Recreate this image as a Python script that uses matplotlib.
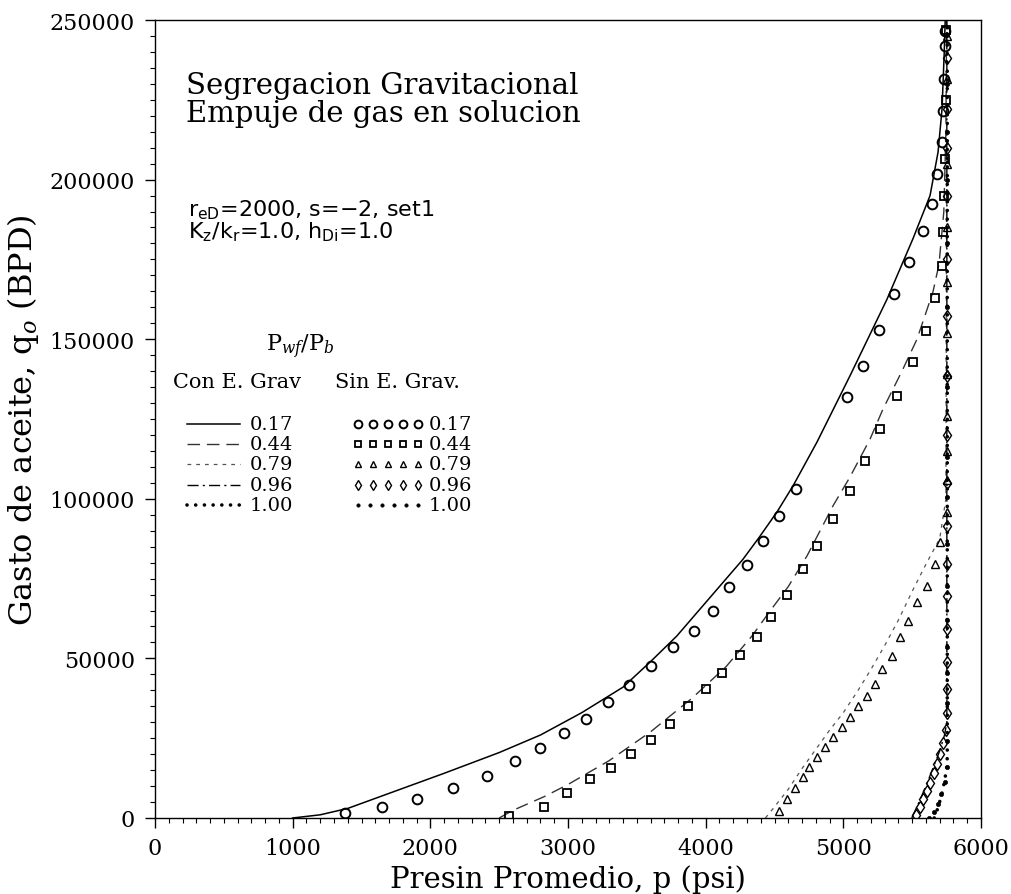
import matplotlib
matplotlib.use("Agg")
import matplotlib.pyplot as plt
import numpy as np
from matplotlib.ticker import MultipleLocator

plt.rcParams['font.family'] = ['DejaVu Serif']
plt.rcParams['mathtext.fontset'] = 'dejavuserif'

# ---- Con E. Grav (with gravity segregation): curves ----
con_017_p = [1000, 1200, 1400, 1750, 2100, 2500, 2800, 3100, 3400, 3600, 3790, 3940, 4130, 4270,
             4390, 4520, 4634, 4809, 5048, 5317, 5506, 5630, 5688, 5717, 5733, 5740]
con_017_q = [0, 1000, 3000, 8500, 14000, 20500, 26000, 33000, 41000, 49000, 57000, 64500, 74000, 81000,
             88000, 96000, 104000, 117800, 138500, 162500, 181500, 195000, 208600, 222100, 240000, 250000]

con_044_p = [2500, 2600, 2825, 3000, 3300, 3600, 3900, 4150, 4336, 4467, 4600, 4736, 4925,
             5048, 5194, 5288, 5426, 5535, 5651, 5695, 5730, 5745, 5750]
con_044_q = [0, 2400, 6650, 10500, 18000, 27000, 37500, 47500, 57000, 64800, 72500, 82100, 97800,
             106800, 118700, 128100, 140000, 150000, 164800, 173500, 190000, 215000, 250000]

con_079_p = [4434, 4500, 4600, 4700, 4800, 4900, 5000, 5100, 5200, 5300, 5400, 5500, 5600,
             5700, 5745, 5752]
con_079_q = [0, 3500, 9000, 15500, 21500, 27500, 33000, 39500, 46500, 54000, 62000, 71000, 79500,
             87500, 100000, 250000]

con_096_p = [5497, 5550, 5600, 5650, 5700, 5735, 5752, 5752]
con_096_q = [0, 5000, 10000, 15500, 21000, 26000, 30000, 250000]

con_100_p = [5660, 5690, 5715, 5735, 5750, 5755, 5755]
con_100_q = [0, 3500, 7500, 11500, 15500, 19000, 250000]

# ---- Sin E. Grav (without gravity segregation): points ----
sin_017_p = [1380, 1650, 1902, 2168, 2411, 2615, 2800, 2970, 3130, 3290, 3440, 3600, 3763,
             3915, 4053, 4170, 4300, 4416, 4533, 4656, 5027, 5143, 5259, 5368, 5477, 5579,
             5644, 5680, 5717, 5724, 5731, 5738, 5740]
sin_017_q = [1500, 3600, 6050, 9300, 13300, 17900, 22000, 26500, 31000, 36300, 41800, 47500, 53600,
             58600, 64900, 72400, 79300, 86800, 94600, 103100, 131900, 141600, 152900, 164200, 174200, 183900,
             192400, 201800, 211800, 221500, 231500, 241900, 246600]

sin_044_p = [2573, 2825, 2993, 3161, 3315, 3460, 3600, 3740, 3870, 4000, 4120, 4250, 4373,
             4475, 4591, 4707, 4809, 4925, 5048, 5157, 5266, 5390, 5506, 5600, 5666, 5717,
             5724, 5731, 5735, 5745, 5748]
sin_044_q = [600, 3600, 7900, 12100, 15700, 20000, 24500, 29500, 35000, 40500, 45500, 51000, 56700,
             63000, 69900, 78000, 85200, 93700, 102400, 111800, 121900, 132200, 142900, 152600, 162900, 172900,
             183600, 194900, 206400, 225000, 247000]

sin_079_p = [4530, 4590, 4650, 4705, 4750, 4809, 4867, 4925, 4990, 5048, 5107, 5172, 5230,
             5281, 5354, 5412, 5470, 5535, 5608, 5666, 5700, 5752, 5752, 5752, 5752, 5752,
             5752, 5752, 5752, 5752, 5752, 5752]
sin_079_q = [2200, 5800, 9300, 12800, 16000, 19100, 22200, 25400, 28500, 31600, 35100, 38200, 42000,
             46700, 50800, 56700, 61700, 67700, 72700, 79600, 86500, 96000, 106000, 115000, 126000, 139000,
             152000, 168000, 185000, 205000, 231500, 245000]

sin_096_p = [5530, 5555, 5580, 5605, 5630, 5655, 5680, 5705, 5725, 5745, 5752, 5752, 5752,
             5752, 5752, 5752, 5752, 5752, 5752, 5752, 5752, 5752, 5752, 5752, 5752, 5752]
sin_096_q = [1000, 3500, 6000, 8500, 11000, 14000, 17000, 20000, 23500, 27500, 33000, 40400, 48900,
             59200, 69600, 79600, 91500, 105000, 120000, 138500, 157300, 175000, 194900, 210000, 222100, 238000]

sin_100_p = [5625, 5655, 5685, 5710, 5735, 5750, 5755, 5755, 5755, 5755, 5755, 5755, 5755,
             5755, 5755, 5755, 5755, 5755, 5755, 5755, 5755]
sin_100_q = [0, 2000, 4500, 7500, 11300, 16000, 24000, 36000, 45500, 53600, 62000, 72700, 85900,
             100600, 113000, 135000, 160000, 180000, 200000, 215000, 230000]

ratio_labels = ["0.17", "0.44", "0.79", "0.96", "1.00"]
x_ticks = [0, 1000, 2000, 3000, 4000, 5000, 6000]
y_ticks = [0, 50000, 100000, 150000, 200000, 250000]

# ---- styles ----
con_styles = [
    dict(color='black', lw=1.1, ls='-'),
    dict(color='#333333', lw=1.0, ls=(0, (9, 5))),
    dict(color='#555555', lw=0.9, ls=(0, (3, 4))),
    dict(color='black', lw=1.0, ls=(0, (8, 3, 1.5, 3))),
    dict(color='black', lw=2.6, ls=(0, (0.01, 2.4)), dash_capstyle='round'),
]
sin_styles = [
    dict(marker='o', ms=7.0, mfc='none', mec='black', mew=1.4),
    dict(marker='s', ms=5.5, mfc='none', mec='black', mew=1.3),
    dict(marker='^', ms=5.5, mfc='none', mec='black', mew=1.0),
    dict(marker='d', ms=6.0, mfc='none', mec='black', mew=1.0),
    dict(marker='o', ms=3.0, mfc='black', mec='black', mew=0.5),
]

con_series = [(con_017_p, con_017_q), (con_044_p, con_044_q), (con_079_p, con_079_q),
              (con_096_p, con_096_q), (con_100_p, con_100_q)]
sin_series = [(sin_017_p, sin_017_q), (sin_044_p, sin_044_q), (sin_079_p, sin_079_q),
              (sin_096_p, sin_096_q), (sin_100_p, sin_100_q)]

W, H = 1011, 895
fig = plt.figure(figsize=(W / 100, H / 100), dpi=100)
L, R, T, B = 155, 981, 21, 819
ax = fig.add_axes([L / W, 1 - B / H, (R - L) / W, (B - T) / H])

for (p, q), st in zip(con_series, con_styles):
    ax.plot(p, q, **st)
for (p, q), st in zip(sin_series, sin_styles):
    ax.plot(p, q, ls='none', **st)

ax.set_xlim(0, 6000)
ax.set_ylim(0, 250000)
ax.set_xticks(x_ticks)
ax.set_yticks(y_ticks)
ax.set_xticklabels([str(v) for v in x_ticks])
ax.set_yticklabels([str(v) for v in y_ticks])
ax.xaxis.set_minor_locator(MultipleLocator(100))
ax.yaxis.set_minor_locator(MultipleLocator(5000))
ax.tick_params(which='major', direction='out', length=7.5, width=1.0, labelsize=16)
ax.tick_params(axis='x', which='major', pad=6)
ax.tick_params(axis='y', which='major', pad=7)
ax.tick_params(which='minor', direction='out', length=3.5, width=0.8)
ax.tick_params(which='both', top=False, right=False)
for s in ax.spines.values():
    s.set_linewidth(1.0)

ax.set_xlabel("Presin Promedio, p (psi)", fontsize=21, labelpad=4)
ax.set_ylabel("Gasto de aceite, q$_o$ (BPD)", fontsize=23, labelpad=6)

# headline
ax.text(0.0375, 0.936, "Segregacion Gravitacional\nEmpuje de gas en solucion",
        transform=ax.transAxes, fontsize=21, va='top', ha='left', linespacing=1.0)

# case parameters
ax.text(0.04, 0.778, "r$_{\\mathsf{eD}}$=2000, s=\u22122, set1\nK$_{\\mathsf{z}}$/k$_{\\mathsf{r}}$=1.0, h$_{\\mathsf{Di}}$=1.0",
        transform=ax.transAxes, fontsize=16, va='top', ha='left', family='DejaVu Sans',
        linespacing=0.95)

# key
ax.text(0.1755, 0.5915, "P$_{wf}$/P$_b$", transform=ax.transAxes, fontsize=16,
        ha='center', va='center')
ax.text(0.0218, 0.5476, "Con E. Grav", transform=ax.transAxes, fontsize=15,
        ha='left', va='center')
ax.text(0.218, 0.5476, "Sin E. Grav.", transform=ax.transAxes, fontsize=15,
        ha='left', va='center')

row_y = [0.4937, 0.4687, 0.4436, 0.4173, 0.3922]
con_x0, con_x1, con_lab = 0.0387, 0.1029, 0.115
sin_x0, sin_x1, sin_lab = 0.246, 0.318, 0.331
for i, lab in enumerate(ratio_labels):
    y = row_y[i]
    ax.plot([con_x0, con_x1], [y, y], transform=ax.transAxes, clip_on=False, **con_styles[i])
    n = 6 if i == 4 else 5
    xs = np.linspace(sin_x0, sin_x1, n)
    key_style = dict(sin_styles[i])
    key_style['ms'] = key_style['ms'] * 0.8
    ax.plot(xs, [y] * n, transform=ax.transAxes, clip_on=False, ls='none', **key_style)
    ax.text(con_lab, y, lab, transform=ax.transAxes, fontsize=14, ha='left', va='center')
    ax.text(sin_lab, y, lab, transform=ax.transAxes, fontsize=14, ha='left', va='center')

fig.savefig("out.png", dpi=100)
